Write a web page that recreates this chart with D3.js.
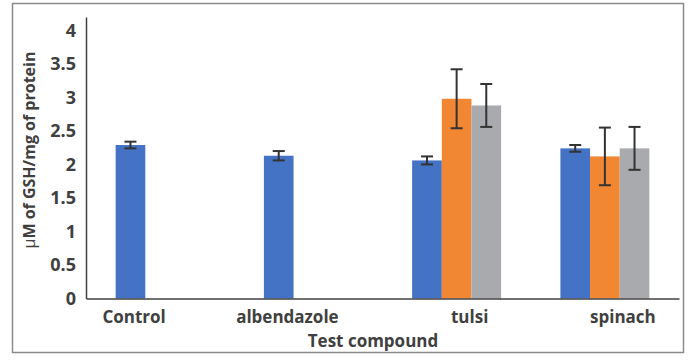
<!DOCTYPE html>
<html>
<head>
<meta charset="utf-8">
<script src="https://cdn.jsdelivr.net/npm/d3@7"></script>
<style>
  body { margin: 0; background: #fff; }
  text { font-family: "Open Sans", sans-serif; font-weight: 700; fill: #404040; }
</style>
</head>
<body>
<div class="chart-container"></div>
<script>
var totalWidth = 690;
var totalHeight = 363;

// chart values
var categories = ['Control', 'albendazole', 'tulsi', 'spinach'];
var seriesNames = ['s1', 's2', 's3'];
var series1 = [2.29, 2.13, 2.06, 2.24];
var series2 = [null, null, 2.98, 2.12];
var series3 = [null, null, 2.88, 2.24];
var errors1 = [0.05, 0.07, 0.06, 0.05];
var errors2 = [null, null, 0.44, 0.43];
var errors3 = [null, null, 0.32, 0.32];
var yTicks = [0, 0.5, 1, 1.5, 2, 2.5, 3, 3.5, 4];

// layout
var plot = { left: 86, right: 679, top: 17, bottom: 298.5 };
var colors = ['#4472c4', '#f28733', '#a9aaad'];
var labelShift = [-26, -21, 13, 18];

var rows = [];
[series1, series2, series3].forEach((s, si) => {
  var errs = [errors1, errors2, errors3][si];
  s.forEach((v, ci) => {
    if (v !== null) rows.push({ cat: categories[ci], series: seriesNames[si], value: v, err: errs[ci], color: colors[si] });
  });
});

var svg = d3.select('.chart-container').append('svg')
  .attr('width', totalWidth)
  .attr('height', totalHeight);

svg.append('rect')
  .attr('x', 12.5).attr('y', 3.5)
  .attr('width', 671).attr('height', 349)
  .attr('fill', 'none')
  .attr('stroke', '#8a8a8a')
  .attr('stroke-width', 1.5);

var x = d3.scaleBand()
  .domain(categories)
  .range([plot.left, plot.right])
  .paddingInner(0);

var xs = d3.scaleBand()
  .domain(seriesNames)
  .range([0, x.bandwidth()])
  .paddingInner(0)
  .paddingOuter(1);

var y = d3.scaleLinear()
  .domain([0, 4.2])
  .range([plot.bottom, plot.top]);

// bars
svg.selectAll('rect.bar')
  .data(rows).enter()
  .append('rect')
    .attr('class', 'bar')
    .attr('x', d => x(d.cat) + xs(d.series))
    .attr('y', d => y(d.value))
    .attr('width', xs.bandwidth())
    .attr('height', d => y(0) - y(d.value))
    .attr('fill', d => d.color);

// error bars
var eb = svg.selectAll('g.err')
  .data(rows).enter()
  .append('g')
    .attr('class', 'err')
    .attr('stroke', '#333')
    .attr('stroke-width', 2);

var cx = d => x(d.cat) + xs(d.series) + xs.bandwidth() / 2;

eb.append('line')
  .attr('x1', cx).attr('x2', cx)
  .attr('y1', d => y(d.value + d.err))
  .attr('y2', d => y(d.value - d.err));
eb.append('line')
  .attr('x1', d => cx(d) - 6).attr('x2', d => cx(d) + 6)
  .attr('y1', d => y(d.value + d.err))
  .attr('y2', d => y(d.value + d.err));
eb.append('line')
  .attr('x1', d => cx(d) - 6).attr('x2', d => cx(d) + 6)
  .attr('y1', d => y(d.value - d.err))
  .attr('y2', d => y(d.value - d.err));

// axes
var yAxis = d3.axisLeft(y).tickValues(yTicks).tickFormat(d => String(d)).tickSize(0).tickPadding(10);
var gY = svg.append('g')
  .attr('transform', `translate(${plot.left},0)`)
  .call(yAxis);
gY.select('.domain').attr('stroke', '#404040').attr('stroke-width', 1.5);
gY.selectAll('.tick text')
  .attr('font-size', 18)
  .attr('font-family', null)
  .attr('fill', null);

var xAxis = d3.axisBottom(x).tickSize(0).tickPadding(0);
var gX = svg.append('g')
  .attr('transform', `translate(0, ${plot.bottom})`)
  .call(xAxis);
gX.select('.domain').attr('stroke', '#404040').attr('stroke-width', 1.5);
gX.selectAll('.tick text')
  .attr('font-size', 17)
  .attr('font-family', null)
  .attr('fill', null)
  .attr('y', 24)
  .attr('dy', 0)
  .attr('x', (d, i) => labelShift[i]);

svg.append('text')
  .attr('text-anchor', 'middle')
  .attr('font-size', 17)
  .attr('x', 373)
  .attr('y', 347)
  .text('Test compound');

var yt = svg.append('text')
  .attr('text-anchor', 'middle')
  .attr('font-size', 16)
  .attr('transform', 'translate(35, 150) rotate(-90)');
yt.append('tspan').attr('font-weight', 400).text('\u03bc');
yt.append('tspan').text('M of GSH/mg of protein');
</script>
</body>
</html>
